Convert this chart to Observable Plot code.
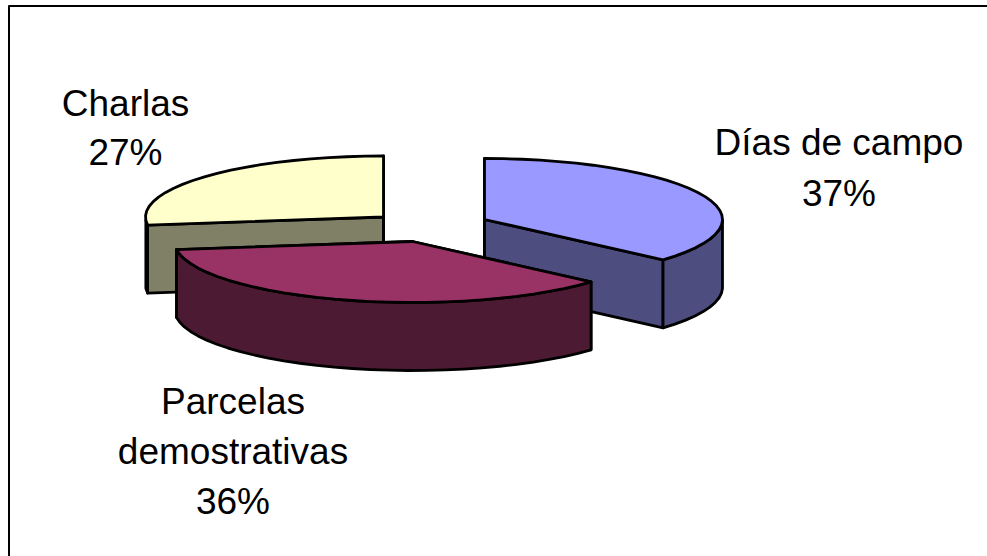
<!DOCTYPE html>
<html><head><meta charset="utf-8">
<style>html,body{margin:0;padding:0;background:#fff}svg{display:block}</style>
<script src="https://cdn.jsdelivr.net/npm/d3@7"></script>
<script src="https://cdn.jsdelivr.net/npm/@observablehq/plot@0.6"></script>
</head><body><div id="c"></div>
<script>
const categories = ["Días de campo", "Parcelas demostrativas", "Charlas"];
const shares = [36.5, 36.4, 27.1];
const topColors = ["#9999ff", "#993366", "#ffffcc"];
const wallColors = ["#4d4d80", "#4d1a33", "#808066"];
const centersX = [484, 412, 383];
const centersY = [219, 241, 216.5];
const labelX = [838.5, 232.5, 125];
const labelY = [[143, 194], [402, 452, 502], [104, 153]];
const labelLines = [["Días de campo", "37%"], ["Parcelas", "demostrativas", "36%"], ["Charlas", "27%"]];

const rx = 238, ry = 61, depth = 68;
const total = d3.sum(shares);
let cum = 0;
const slices = shares.map((v, i) => {
  const a0 = cum / total * 2 * Math.PI; cum += v;
  return {i, a0, a1: cum / total * 2 * Math.PI};
});
const arc = (s, dy = 0) => {
  const n = Math.max(3, Math.round((s.a1 - s.a0) / (Math.PI / 40)));
  return d3.range(n + 1).map(k => {
    const a = s.a0 + (s.a1 - s.a0) * k / n;
    return {x: centersX[s.i] + rx * Math.sin(a), y: centersY[s.i] - ry * Math.cos(a) + dy, a};
  });
};
const P = (s) => ({x: centersX[s.i], y: centersY[s.i]});
const polys = [];
let id = 0;
const pushPoly = (pts, fill) => { const z = id++; pts.concat([pts[0]]).forEach(p => polys.push({x: p.x, y: p.y, z, fill})); };
// draw order: Charlas, Dias de campo, Parcelas (front)
for (const i of [2, 0, 1]) {
  const s = slices[i];
  const c = P(s), top = arc(s), bot = arc(s, depth);
  const cd = {x: c.x, y: c.y + depth};
  pushPoly([c, top[0], bot[0], cd], wallColors[i]);
  pushPoly([c, top[top.length - 1], bot[bot.length - 1], cd], wallColors[i]);
  const vis = top.map((p, k) => k).filter(k => Math.cos(top[k].a) <= 0.02);
  if (vis.length > 1) pushPoly(vis.map(k => top[k]).concat(vis.slice().reverse().map(k => bot[k])), wallColors[i]);
  pushPoly([c, ...top], topColors[i]);
}
const texts = labelLines.flatMap((lines, i) => lines.map((t, k) => ({t, x: labelX[i], y: labelY[i][k]})));
const frame = [{x: 8.5, y: 556}, {x: 8.5, y: 5.5}, {x: 987, y: 5.5}];

const chart = Plot.plot({
  width: 987, height: 556, margin: 0,
  x: {type: "identity", axis: null}, y: {type: "identity", axis: null},
  style: {background: "#fff"},
  marks: [
    Plot.line(frame, {x: "x", y: "y", stroke: "#000", strokeWidth: 2, curve: "linear"}),
    Plot.line(polys, {x: "x", y: "y", z: "z", fill: "fill", stroke: "#000", strokeWidth: 2.8, strokeLinejoin: "round", curve: "linear"}),
    Plot.text(texts, {x: "x", y: "y", text: "t", fontSize: 37, fontFamily: "Liberation Sans", fill: "#000", textAnchor: "middle"})
  ]
});
document.getElementById("c").append(chart);
</script></body></html>
